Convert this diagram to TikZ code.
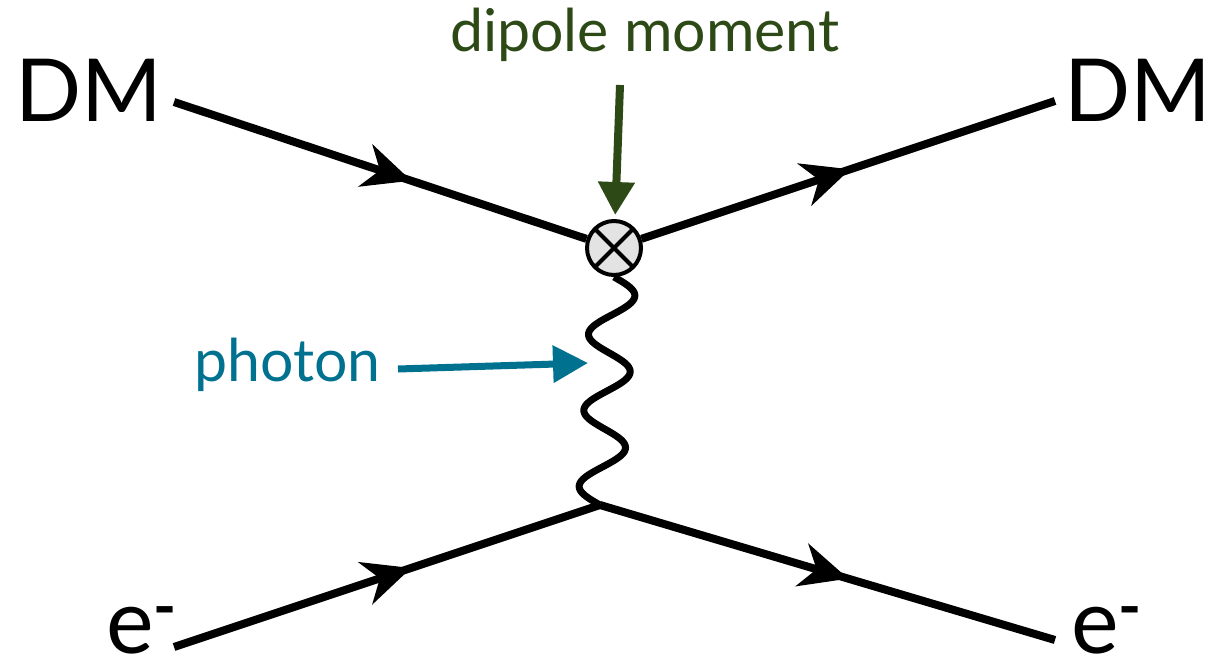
\documentclass[tikz,border=0pt]{standalone}
\usepackage{fontspec}
\setmainfont{Lato}
\usetikzlibrary{arrows.meta,decorations.markings,calc}
\definecolor{dipgreen}{HTML}{2C4916}
\definecolor{phteal}{HTML}{00718F}
\newcommand{\supminus}{\raisebox{25pt}{\fontsize{62}{62}\bfseries -}}
\begin{document}
\begin{tikzpicture}[x=1pt,y=-1pt,
  fline/.style={line width=8pt, black},
  midarrow/.style={postaction={decorate}, decoration={markings, mark=at position #1 with {\arrow{Stealth[length=48pt,width=44pt,inset=15pt]}}}},
  vtx/.style={circle, draw=black, line width=4pt, fill=gray!22, minimum size=54pt, inner sep=0pt,
    path picture={\draw[line width=4pt] (path picture bounding box.north east) -- (path picture bounding box.south west)
      (path picture bounding box.north west) -- (path picture bounding box.south east);}},
  dmlbl/.style={anchor=base west, inner sep=0pt, font=\fontsize{87}{87}\selectfont},
  elbl/.style={anchor=base west, inner sep=0pt, font=\fontsize{90}{90}\selectfont},
  smlbl/.style={anchor=base west, inner sep=0pt, font=\fontsize{59}{59}\selectfont},
  photonline/.style={line width=7pt, black, line join=round}
]
\useasboundingbox (0,0) rectangle (1212,658);
% points
\coordinate (a) at (174,102);
\coordinate (b) at (1055,101);
\coordinate (c) at (174,647);
\coordinate (d) at (1055,640);
\coordinate (L) at (600,505);
\node[vtx] (V) at (614,248) {};
% fermion lines
\draw[fline, midarrow=250pt] (a) -- (V);
\draw[fline, midarrow=220pt] (V) -- (b);
\draw[fline, midarrow=250pt] (c) -- (L);
\draw[fline, midarrow=259pt] (L) -- (d);
% photon
\draw[photonline] let \p1=(V.south), \p2=(L) in
  plot[variable=\t, domain=0:1, samples=160, smooth] ({\x1+(\x2-\x1)*\t+22*sin(\t*1080)}, {\y1+(\y2-\y1)*\t});
% labels
\node[dmlbl] (dmL) at (15,122) {DM};
\node[dmlbl] (dmR) at (1064,122) {DM};
\node[elbl] (eL) at (106,653) {e\supminus};
\node[elbl] (eR) at (1071,653) {e\supminus};
\node[smlbl, text=dipgreen] (dip) at (450,52) {dipole moment};
\node[smlbl, text=phteal] (ph) at (194,381) {photon};
% pointer arrows
\coordinate (g) at (620,85);
\draw[line width=8pt, dipgreen, -{Triangle[length=33pt,width=35pt]}, shorten >=4pt] (g) -- (V);
\coordinate (t1) at (398,369);
\coordinate (t2) at (588,363);
\draw[line width=7pt, phteal, -{Triangle[length=35pt,width=36pt]}] (t1) -- (t2);
\end{tikzpicture}
\end{document}
